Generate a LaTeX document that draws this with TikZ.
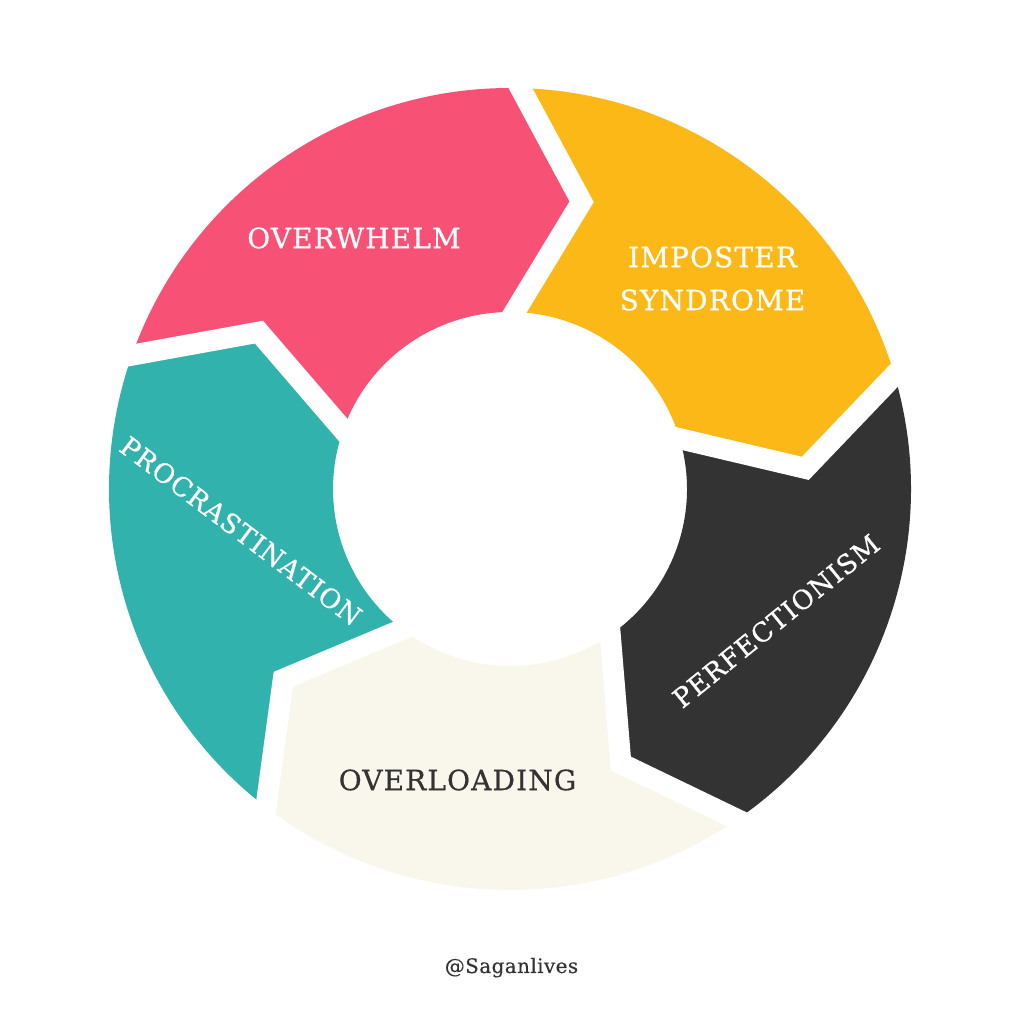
\documentclass[tikz,border=0pt]{standalone}
\usepackage{fontspec}
\usepackage{tikz}
\usetikzlibrary{calc}
\newfontfamily\segfont{DejaVu Serif}[LetterSpace=4,FakeBold=0.6]
\newfontfamily\handlefont{DejaVu Serif}[LetterSpace=2,FakeBold=0.3]
\definecolor{pinkseg}{HTML}{F75275}
\definecolor{yellowseg}{HTML}{FCB817}
\definecolor{darkseg}{HTML}{333333}
\definecolor{creamseg}{HTML}{F9F7EC}
\definecolor{tealseg}{HTML}{32B2AC}
\tikzset{
         seglabel/.style=
          {
           font=\segfont\fontsize{28}{43}\selectfont,
           text=white,
           inner sep=0pt,
           align=center
          },
         slantlabel/.style=
          {
           seglabel,
           font=\segfont\fontsize{26.5}{43}\selectfont
          },
         handle/.style=
          {
           font=\handlefont\fontsize{20}{24}\selectfont,
           text=darkseg,
           inner sep=0pt
          },
         gapline/.style={white,line width=21pt,line join=miter,miter limit=20}
        }

\begin{document}
\begin{tikzpicture}[x=1pt,y=1pt]
      \fill[white] (0,0) rectangle (1024,1024); % page
      \coordinate (C) at (510,535); % ring centre
      % segment borders: outer corner, arrow tip, inner corner
      \coordinate (o1) at ($(C)+(88.5:401pt)$);   \coordinate (t1) at ($(C)+(76:296pt)$);   \coordinate (i1) at ($(C)+(88.5:177pt)$);
      \coordinate (o2) at ($(C)+(16.5:401pt)$);   \coordinate (t2) at ($(C)+(4:296pt)$);    \coordinate (i2) at ($(C)+(16.5:177pt)$);
      \coordinate (o3) at ($(C)+(-55.5:401pt)$);  \coordinate (t3) at ($(C)+(-68:296pt)$);  \coordinate (i3) at ($(C)+(-55.5:177pt)$);
      \coordinate (o4) at ($(C)+(-127.5:401pt)$); \coordinate (t4) at ($(C)+(-140:296pt)$); \coordinate (i4) at ($(C)+(-127.5:177pt)$);
      \coordinate (o5) at ($(C)+(160.5:401pt)$);  \coordinate (t5) at ($(C)+(148:296pt)$);  \coordinate (i5) at ($(C)+(160.5:177pt)$);
      \fill[pinkseg] (o5) arc[start angle=160.5,end angle=88.5,radius=401pt] -- (t1) -- (i1)
            arc[start angle=88.5,end angle=160.5,radius=177pt] -- (t5) -- cycle; % overwhelm arrow
      \fill[yellowseg] (o1) arc[start angle=88.5,end angle=16.5,radius=401pt] -- (t2) -- (i2)
            arc[start angle=16.5,end angle=88.5,radius=177pt] -- (t1) -- cycle; % imposter arrow
      \fill[darkseg] (o2) arc[start angle=16.5,end angle=-55.5,radius=401pt] -- (t3) -- (i3)
            arc[start angle=-55.5,end angle=16.5,radius=177pt] -- (t2) -- cycle; % perfectionism arrow
      \fill[creamseg] (o3) arc[start angle=-55.5,end angle=-127.5,radius=401pt] -- (t4) -- (i4)
            arc[start angle=-127.5,end angle=-55.5,radius=177pt] -- (t3) -- cycle; % overloading arrow
      \fill[tealseg] (o4) arc[start angle=-127.5,end angle=-199.5,radius=401pt] -- (t5) -- (i5)
            arc[start angle=-199.5,end angle=-127.5,radius=177pt] -- (t4) -- cycle; % procrastination arrow
      \draw[gapline] ($(t1)!1.4!(o1)$) -- (t1) -- ($(t1)!1.4!(i1)$); % gap 1
      \draw[gapline] ($(t2)!1.4!(o2)$) -- (t2) -- ($(t2)!1.4!(i2)$); % gap 2
      \draw[gapline] ($(t3)!1.4!(o3)$) -- (t3) -- ($(t3)!1.4!(i3)$); % gap 3
      \draw[gapline] ($(t4)!1.4!(o4)$) -- (t4) -- ($(t4)!1.4!(i4)$); % gap 4
      \draw[gapline] ($(t5)!1.4!(o5)$) -- (t5) -- ($(t5)!1.4!(i5)$); % gap 5
      \node[seglabel] (overwhelm) at (354,786) {OVERWHELM}; % pink label
      \node[seglabel] (imposter) at (712.5,745.5) {IMPOSTER\\SYNDROME}; % yellow label
      \node[slantlabel,rotate=39] (perfectionism) at (776,403) {PERFECTIONISM}; % dark label
      \node[seglabel,text=darkseg] (overloading) at (457.5,244) {OVERLOADING}; % cream label
      \node[slantlabel,rotate=-37] (procrastination) at (241,493) {PROCRASTINATION}; % teal label
      \node[handle,anchor=base] (sagan) at (511.5,51) {@Saganlives}; % credit
   \end{tikzpicture}
\end{document}
